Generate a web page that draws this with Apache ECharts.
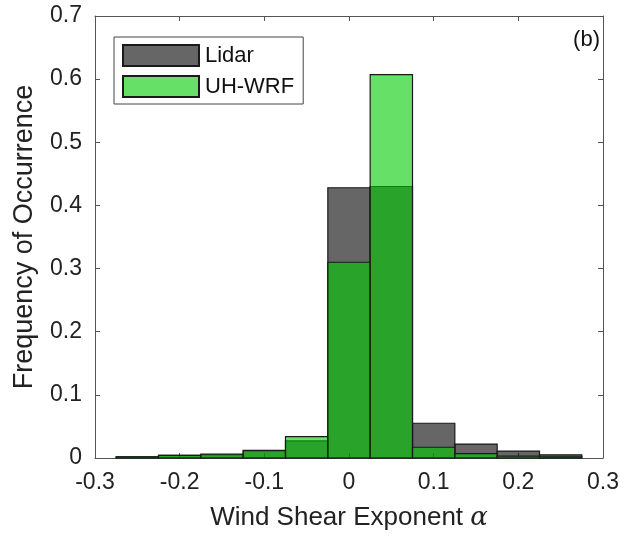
<!DOCTYPE html>
<html>
<head>
<meta charset="utf-8">
<script src="https://cdn.jsdelivr.net/npm/echarts@6/dist/echarts.min.js"></script>
<style>
  html, body { margin: 0; padding: 0; background: #fff; }
  #chart { width: 634px; height: 540px; }
</style>
</head>
<body>
<div id="chart"></div>
<script>
// bin centres (width 0.05)
var binCenters = [-0.25, -0.2, -0.15, -0.1, -0.05, 0, 0.05, 0.1, 0.15, 0.2, 0.25];
var binWidth = 0.05;
// frequency of occurrence
var lidarFreq = [0.002, 0.004, 0.005, 0.011, 0.027, 0.428, 0.430, 0.055, 0.022, 0.011, 0.005];
var wrfFreq   = [0.002, 0.004, 0.006, 0.012, 0.034, 0.310, 0.607, 0.017, 0.007, 0.003, 0.002];
var xTicks = [-0.3, -0.2, -0.1, 0, 0.1, 0.2, 0.3];
var yTicks = [0, 0.1, 0.2, 0.3, 0.4, 0.5, 0.6, 0.7];

var FONT = 'Liberation Sans';

function toPairs(vals) {
	var out = [];
	for (var i = 0; i < binCenters.length; i++) {
		out.push([binCenters[i], vals[i]]);
	}
	return out;
}

//画直方图的矩形
function renderBin(params, api) {
	var x = api.value(0);
	var y = api.value(1);
	var p1 = api.coord([x - binWidth / 2, y]);
	var p2 = api.coord([x + binWidth / 2, 0]);
	return {
		type: 'rect',
		shape: { x: p1[0], y: p1[1], width: p2[0] - p1[0], height: p2[1] - p1[1] },
		style: api.style()
	};
}

function tickFmt(v) {
	if (Math.abs(v) < 1e-9) return '0';
	return (+v.toFixed(1)).toString();
}

var lineSty = { color: '#555', width: 1 };

function frameAxis(pos, min, max, step) {
	return {
		type: 'value',
		position: pos,
		min: min,
		max: max,
		interval: step,
		axisLine: { show: true, onZero: false, lineStyle: lineSty },
		axisTick: { show: true, inside: true, length: 5, lineStyle: lineSty },
		axisLabel: { show: false },
		splitLine: { show: false }
	};
}

var option = {
	backgroundColor: '#fff',
	animation: false,
	textStyle: { fontFamily: FONT },
	grid: { left: 95, right: 31, top: 16, bottom: 82 },
	legend: {
		left: 114,
		top: 37,
		orient: 'vertical',
		itemWidth: 76,
		itemHeight: 21,
		itemGap: 8,
		padding: [7, 9, 6, 8],
		borderColor: '#444',
		borderWidth: 1,
		icon: 'rect',
		textStyle: { fontFamily: FONT, fontSize: 22, color: '#111', padding: [0, 0, 0, 1] },
		data: ['Lidar', 'UH-WRF']
	},
	xAxis: [{
		type: 'value',
		min: -0.3,
		max: 0.3,
		interval: 0.1,
		name: 'Wind Shear Exponent {a|α}',
		nameLocation: 'middle',
		nameGap: 47,
		nameTextStyle: {
			fontFamily: FONT, fontSize: 26, color: '#222',
			rich: { a: { fontFamily: 'DejaVu Serif', fontStyle: 'italic', fontSize: 26, color: '#222' } }
		},
		axisLine: { show: true, onZero: false, lineStyle: lineSty },
		axisTick: { show: true, inside: true, length: 5, lineStyle: lineSty },
		axisLabel: { formatter: tickFmt, fontSize: 23, color: '#222', margin: 13, fontFamily: FONT },
		splitLine: { show: false }
	}, frameAxis('top', -0.3, 0.3, 0.1)],
	yAxis: [{
		type: 'value',
		min: 0,
		max: 0.7,
		interval: 0.1,
		name: 'Frequency of Occurrence',
		nameLocation: 'middle',
		nameGap: 57,
		nameTextStyle: { fontFamily: FONT, fontSize: 27, color: '#222' },
		axisLine: { show: true, onZero: false, lineStyle: lineSty },
		axisTick: { show: true, inside: true, length: 5, lineStyle: lineSty },
		axisLabel: { formatter: tickFmt, fontSize: 23, color: '#222', margin: 13, fontFamily: FONT },
		splitLine: { show: false }
	}, frameAxis('right', 0, 0.7, 0.1)],
	graphic: [{
		type: 'text',
		right: 34,
		top: 29,
		style: { text: '(b)', fontFamily: FONT, fontSize: 22, fill: '#111' }
	}],
	series: [{
		name: 'Lidar',
		type: 'custom',
		renderItem: renderBin,
		encode: { x: 0, y: 1 },
		itemStyle: { color: 'rgba(0,0,0,0.6)', borderColor: '#1a1a1a', borderWidth: 1.2 },
		data: toPairs(lidarFreq)
	}, {
		name: 'UH-WRF',
		type: 'custom',
		renderItem: renderBin,
		encode: { x: 0, y: 1 },
		itemStyle: { color: 'rgba(0,204,0,0.6)', borderColor: '#1a1a1a', borderWidth: 1.2 },
		data: toPairs(wrfFreq)
	}]
};

echarts.init(document.getElementById('chart')).setOption(option);
</script>
</body>
</html>
